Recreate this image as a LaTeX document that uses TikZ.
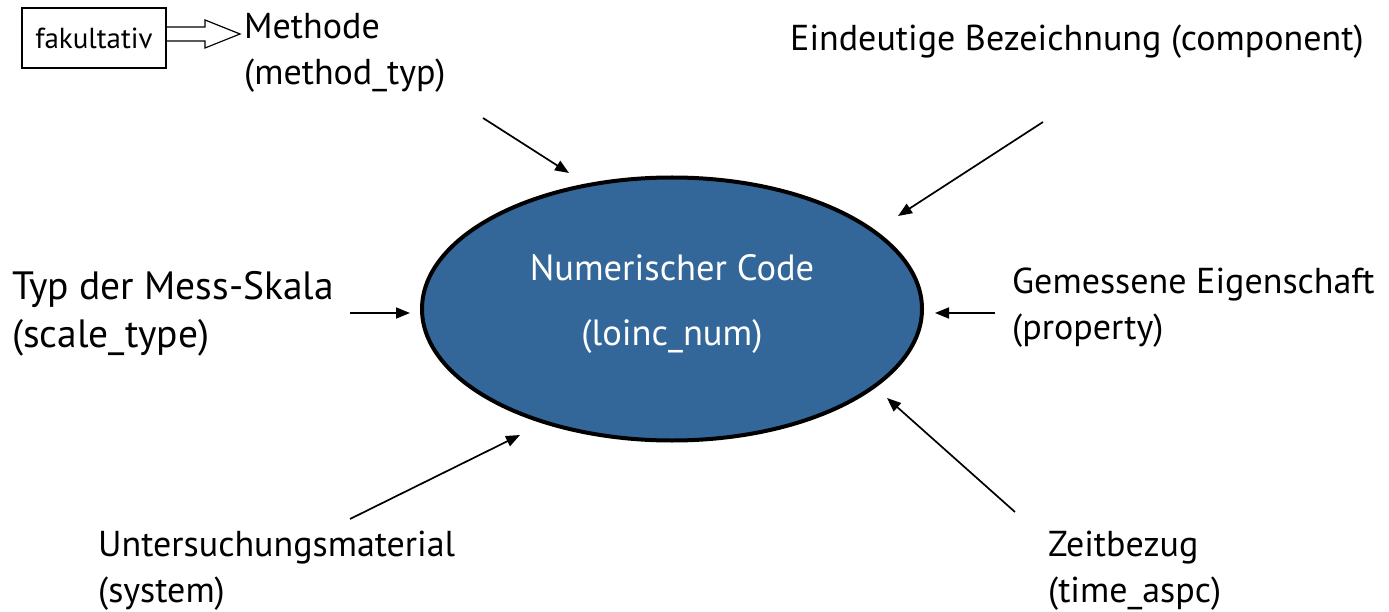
\documentclass[tikz,border=0pt]{standalone}
\usepackage{fontspec}
\setmainfont{PT Sans}
\usetikzlibrary{arrows.meta,shapes.geometric}
\definecolor{codeblue}{HTML}{346799}
\tikzset{
  lbl/.style={anchor=west, align=left, inner sep=0pt, font=\fontsize{36}{46}\selectfont},
  biglbl/.style={anchor=west, align=left, inner sep=0pt, font=\fontsize{39.5}{48}\selectfont},
  conn/.style={line width=1.7pt, -{Triangle[length=14pt,width=11pt]}},
}
\begin{document}
\begin{tikzpicture}[x=1pt,y=-1pt]
\useasboundingbox (0,0) rectangle (1389,612);
% central ellipse
\node[draw=black, line width=4pt, fill=codeblue, ellipse, minimum width=500pt, minimum height=263pt, inner sep=0pt] (code) at (672,309) {};
\node[text=white, align=center, inner sep=0pt, font=\fontsize{36.5}{65}\selectfont] (codetxt) at (672,304) {Numerischer Code\\(loinc\_num)};
% labels
\node[lbl] (meth) at (244,53) {Methode\\(method\_typ)};
\node[lbl] (comp) at (790,42) {Eindeutige Bezeichnung (component)};
\node[biglbl] (scale) at (12,314) {Typ der Mess-Skala\\(scale\_type)};
\node[lbl] (prop) at (1012,308) {Gemessene Eigenschaft\\(property)};
\node[lbl] (sys) at (98,571) {Untersuchungsmaterial\\(system)};
\node[lbl] (time) at (1048,571) {Zeitbezug\\(time\_aspc)};
% fakultativ box and hollow arrow
\node[draw=black, line width=1.2pt, minimum width=144pt, minimum height=60pt, inner sep=0pt, font=\fontsize{29}{33}\selectfont] (fak) at (94,38) {fakultativ};
\draw[line width=1.2pt] (fak.east |- 0,27) -- (205,27) -- (205,20) -- (240,34) -- (205,48) -- (205,41) -- (fak.east |- 0,41);
% arrow endpoints
\coordinate (m1) at (483,118); \coordinate (m2) at (569,173);
\coordinate (c1) at (1043,122); \coordinate (c2) at (898,216);
\coordinate (s1) at (350,313); \coordinate (s2) at (410,313);
\coordinate (p1) at (995,313); \coordinate (p2) at (935,313);
\coordinate (y1) at (350,519); \coordinate (y2) at (520,435);
\coordinate (t1) at (1015,512); \coordinate (t2) at (887,398);
\draw[conn] (m1) -- (m2);
\draw[conn] (c1) -- (c2);
\draw[conn] (s1) -- (s2);
\draw[conn] (p1) -- (p2);
\draw[conn] (y1) -- (y2);
\draw[conn] (t1) -- (t2);
\end{tikzpicture}
\end{document}
